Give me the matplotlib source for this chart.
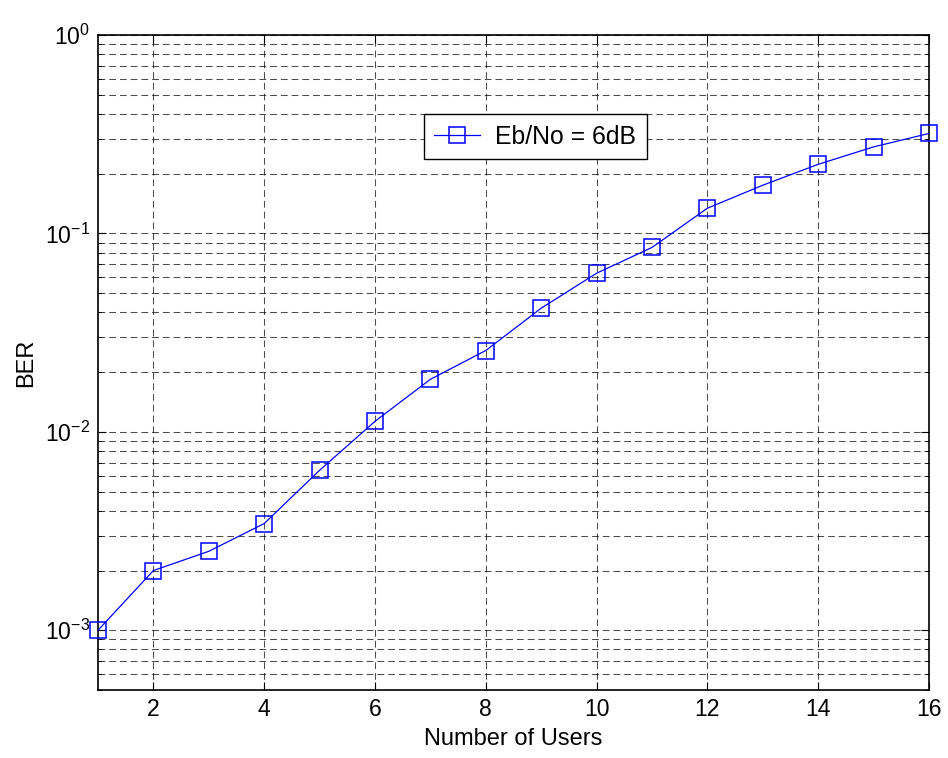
import matplotlib.pyplot as plt
from matplotlib.ticker import LogLocator, NullFormatter

# Data
users = [1, 2, 3, 4, 5, 6, 7, 8, 9, 10, 11, 12, 13, 14, 15, 16]
ber = [1.0e-3, 2.0e-3, 2.5e-3, 3.45e-3, 6.4e-3, 1.13e-2, 1.84e-2, 2.57e-2,
       4.2e-2, 6.3e-2, 8.5e-2, 0.134, 0.175, 0.223, 0.273, 0.319]
series_label = "Eb/No = 6dB"
x_ticks = [2, 4, 6, 8, 10, 12, 14, 16]

plt.rcParams["font.family"] = ["Liberation Sans", "DejaVu Sans"]
plt.rcParams["mathtext.fontset"] = "custom"
plt.rcParams["mathtext.rm"] = "Liberation Sans"
plt.rcParams["mathtext.it"] = "Liberation Sans"
plt.rcParams["mathtext.default"] = "regular"

fig = plt.figure(figsize=(9.48, 7.58), dpi=100)
ax = fig.add_axes([98 / 948, 1 - 690 / 758, 831 / 948, 655 / 758])

ax.semilogy(users, ber, color="#0000ff", linewidth=0.9, marker="s",
            markersize=11.3, markerfacecolor="none", markeredgecolor="#0000ff",
            markeredgewidth=1.1, label=series_label, clip_on=False, zorder=3)

ax.set_xlim(1, 16)
ax.set_ylim(5e-4, 1)
ax.set_xticks(x_ticks)
ax.yaxis.set_major_locator(LogLocator(base=10, numticks=10))
ax.yaxis.set_minor_locator(LogLocator(base=10, subs=range(2, 10), numticks=20))
ax.yaxis.set_minor_formatter(NullFormatter())

grid_style = dict(color="black", linestyle=(0, (6.5, 3.8)), linewidth=0.75, alpha=0.7)
ax.grid(True, which="major", axis="both", **grid_style)
ax.grid(True, which="minor", axis="y", **grid_style)

ax.tick_params(which="both", direction="in", top=True, right=True, labelsize=16.5)
ax.tick_params(axis="x", which="major", pad=6)
ax.tick_params(axis="y", which="major", pad=6)
ax.tick_params(which="major", length=6, width=0.8)
ax.tick_params(which="minor", length=3, width=0.6)
for sp in ax.spines.values():
    sp.set_linewidth(1.2)

ax.set_xlabel("Number of Users", fontsize=17, labelpad=5)
ax.set_ylabel("BER", fontsize=17, labelpad=5)

leg = ax.legend(loc="upper left", bbox_to_anchor=(0.392, 0.879), fontsize=17.8,
                fancybox=False, framealpha=1, edgecolor="black",
                borderaxespad=0, handlelength=1.85, handletextpad=0.62,
                borderpad=0.42)
leg.get_frame().set_linewidth(1.0)

fig.savefig("out.png", dpi=100)
